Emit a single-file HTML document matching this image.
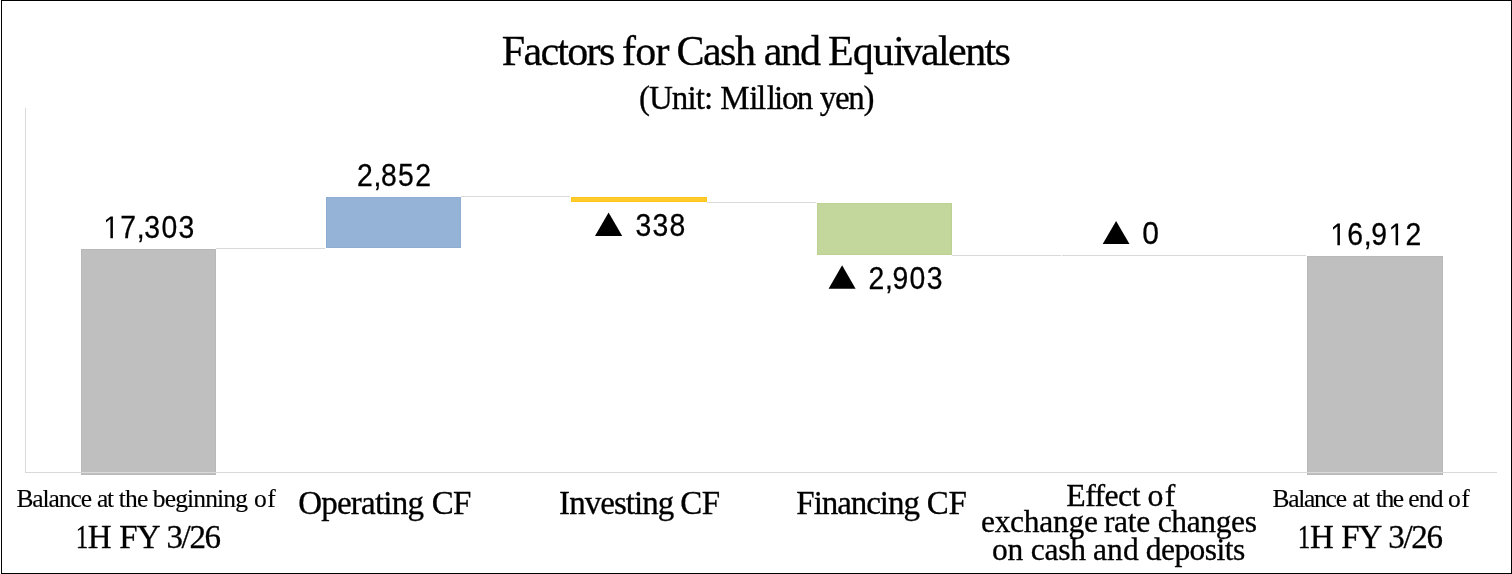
<!DOCTYPE html>
<html lang="en"><head><meta charset="utf-8"><title>Factors for Cash and Equivalents</title>
<style>html,body{margin:0;padding:0;background:#fff;}body{width:1512px;height:574px;overflow:hidden;}svg{display:block;will-change:transform;}svg{stroke-width:0.3px;}text{fill:#000;stroke:#000;}</style></head><body>
<svg width="1512" height="574" viewBox="0 0 1512 574">
<rect width="1512" height="574" fill="#fff"/>
<g shape-rendering="crispEdges">
<rect x="81" y="249" width="135" height="226" fill="#b8b8b8"/>
<rect x="82" y="250" width="133" height="224" fill="#bfbfbf"/>
<rect x="326" y="197" width="135" height="51" fill="#8eadd3"/>
<rect x="327" y="198" width="133" height="49" fill="#95b3d7"/>
<rect x="571" y="197" width="136" height="5" fill="#ffc41c"/>
<rect x="572" y="198" width="134" height="3" fill="#ffcb2d"/>
<rect x="817" y="203" width="135" height="52" fill="#bcd192"/>
<rect x="818" y="204" width="133" height="50" fill="#c3d69b"/>
<rect x="1307" y="256" width="136" height="219" fill="#b8b8b8"/>
<rect x="1308" y="257" width="134" height="217" fill="#bfbfbf"/>
<rect x="25" y="108" width="1" height="365" fill="#d9d9d9"/>
<rect x="25" y="472" width="1472" height="1" fill="#d9d9d9"/>
<rect x="216" y="248" width="109" height="1" fill="#d9d9d9"/>
<rect x="461" y="196" width="109" height="1" fill="#d9d9d9"/>
<rect x="707" y="202" width="109" height="1" fill="#d9d9d9"/>
<rect x="952" y="255" width="109" height="1" fill="#d9d9d9"/>
<rect x="1062" y="255" width="244" height="1" fill="#d9d9d9"/>
<rect x="1" y="0" width="1511" height="1" fill="#000"/>
<rect x="1" y="573" width="1511" height="1" fill="#000"/>
<rect x="1" y="0" width="1" height="574" fill="#000"/>
<rect x="1511" y="0" width="1" height="574" fill="#000"/>
</g>
<polygon points="595,235.9 622.2,235.9 608.6,212.6" fill="#000"/>
<polygon points="828.6,288.8 855.6,288.8 842.1,265.3" fill="#000"/>
<polygon points="1102.7,243.9 1129.5,243.9 1116.1,220.9" fill="#000"/>
<g font-family="Liberation Serif, serif" font-size="42">
<text x="501.79" y="65" textLength="113.45" lengthAdjust="spacing">Factors</text>
<text x="621.91" y="65" textLength="47.54" lengthAdjust="spacing">for</text>
<text x="676.45" y="65" textLength="79.44" lengthAdjust="spacing">Cash</text>
<text x="763.72" y="65" textLength="57.3" lengthAdjust="spacing">and</text>
<text x="827.93" y="65" textLength="66.04" lengthAdjust="spacing">Equ</text>
<text x="893.13" y="65">i</text>
<text x="901.69" y="65" textLength="109.22" lengthAdjust="spacing">valents</text>
</g>
<g font-family="Liberation Serif, serif" font-size="33">
<text x="638.89" y="109" textLength="74.2" lengthAdjust="spacing">(Unit:</text>
<text x="720.22" y="109">M</text>
<text x="749.18" y="109" textLength="16.95" lengthAdjust="spacing">il</text>
<text x="766.7" y="109" textLength="16.45" lengthAdjust="spacing">li</text>
<text x="782.11" y="109" textLength="31.04" lengthAdjust="spacing">on</text>
<text x="819.65" y="109" textLength="54.89" lengthAdjust="spacing">yen)</text>
</g>
<g font-family="Liberation Serif, serif" font-size="25.5" stroke-width="0.15">
<text x="16.44" y="507" textLength="75.61" lengthAdjust="spacing">Balance</text>
<text x="97.02" y="507" textLength="17.11" lengthAdjust="spacing">at</text>
<text x="118.72" y="507" textLength="29.69" lengthAdjust="spacing">the</text>
<text x="152.83" y="507" textLength="95.05" lengthAdjust="spacing">beginning</text>
<text x="254.0" y="507" textLength="21.8" lengthAdjust="spacing">of</text>
</g>
<g font-family="Liberation Serif, serif" font-size="33">
<text x="75.82" y="548" textLength="12.56" lengthAdjust="spacingAndGlyphs">1</text>
<text x="87.86" y="548">H</text>
<text x="119.31" y="548" textLength="41.38" lengthAdjust="spacing">FY</text>
<text x="166.44" y="548" textLength="54.59" lengthAdjust="spacing">3/26</text>
</g>
<g font-family="Liberation Serif, serif" font-size="33">
<text x="298.22" y="514" textLength="125.71" lengthAdjust="spacing">Operating</text>
<text x="431.7" y="514" textLength="39.62" lengthAdjust="spacing">CF</text>
</g>
<g font-family="Liberation Serif, serif" font-size="33">
<text x="559.12" y="514" textLength="115.2" lengthAdjust="spacing">Investing</text>
<text x="680.23" y="514" textLength="39.96" lengthAdjust="spacing">CF</text>
</g>
<g font-family="Liberation Serif, serif" font-size="33">
<text x="796.33" y="514" textLength="123.58" lengthAdjust="spacing">Financing</text>
<text x="926.7" y="514" textLength="40.27" lengthAdjust="spacing">CF</text>
</g>
<g font-family="Liberation Serif, serif" font-size="31.8">
<text x="1066.34" y="506" textLength="74.13" lengthAdjust="spacing">Effect</text>
<text x="1147.61" y="506" textLength="27.75" lengthAdjust="spacing">of</text>
</g>
<g font-family="Liberation Serif, serif" font-size="31.5">
<text x="980.95" y="532" textLength="116.95" lengthAdjust="spacing">exchange</text>
<text x="1103.9" y="532" textLength="46.31" lengthAdjust="spacing">rate</text>
<text x="1157.71" y="532" textLength="99.23" lengthAdjust="spacing">changes</text>
</g>
<g font-family="Liberation Serif, serif" font-size="31.5">
<text x="991.89" y="560" textLength="31.28" lengthAdjust="spacing">on</text>
<text x="1030.87" y="560" textLength="55.03" lengthAdjust="spacing">cash</text>
<text x="1092.91" y="560" textLength="45.77" lengthAdjust="spacing">and</text>
<text x="1145.68" y="560" textLength="99.69" lengthAdjust="spacing">deposits</text>
</g>
<g font-family="Liberation Serif, serif" font-size="25.5" stroke-width="0.15">
<text x="1272.44" y="507" textLength="74.55" lengthAdjust="spacing">Balance</text>
<text x="1352.47" y="507" textLength="17.54" lengthAdjust="spacing">at</text>
<text x="1375.8" y="507" textLength="28.17" lengthAdjust="spacing">the</text>
<text x="1408.21" y="507" textLength="35.24" lengthAdjust="spacing">end</text>
<text x="1448.12" y="507" textLength="21.66" lengthAdjust="spacing">of</text>
</g>
<g font-family="Liberation Serif, serif" font-size="33">
<text x="1297.64" y="548" textLength="12.6" lengthAdjust="spacingAndGlyphs">1</text>
<text x="1309.9" y="548">H</text>
<text x="1341.26" y="548" textLength="41.19" lengthAdjust="spacing">FY</text>
<text x="1388.18" y="548" textLength="54.81" lengthAdjust="spacing">3/26</text>
</g>
<g transform="translate(103.27,238.15) scale(0.897,1)" font-family="Liberation Sans, sans-serif" font-size="31.6" fill="#000" stroke="#000" stroke-width="0.3"><path transform="translate(0.0,0) scale(0.01543,-0.01543)" d="M515 0V1237L197 1010V1180L530 1409H696V0Z"/><text x="19.06" y="0">7</text><text x="37.46" y="0">,</text><text x="45.82" y="0">3</text><text x="64.88" y="0">0</text><text x="83.95" y="0">3</text></g>
<g transform="translate(356.97,186.25) scale(0.897,1)" font-family="Liberation Sans, sans-serif" font-size="31.6" fill="#000" stroke="#000" stroke-width="0.3"><text x="0.0" y="0">2</text><text x="18.39" y="0">,</text><text x="26.76" y="0">8</text><text x="45.82" y="0">5</text><text x="64.88" y="0">2</text></g>
<g transform="translate(635.42,236.25) scale(0.897,1)" font-family="Liberation Sans, sans-serif" font-size="31.6" fill="#000" stroke="#000" stroke-width="0.3"><text x="0.0" y="0">3</text><text x="19.06" y="0">3</text><text x="38.13" y="0">8</text></g>
<g transform="translate(868.47,289.1) scale(0.897,1)" font-family="Liberation Sans, sans-serif" font-size="31.6" fill="#000" stroke="#000" stroke-width="0.3"><text x="0.0" y="0">2</text><text x="18.39" y="0">,</text><text x="26.76" y="0">9</text><text x="45.82" y="0">0</text><text x="64.88" y="0">3</text></g>
<g transform="translate(1142.13,244.4) scale(0.95,1)" font-family="Liberation Sans, sans-serif" font-size="31.6" fill="#000" stroke="#000" stroke-width="0.3"><text x="0.0" y="0">0</text></g>
<g transform="translate(1330.27,245.35) scale(0.897,1)" font-family="Liberation Sans, sans-serif" font-size="31.6" fill="#000" stroke="#000" stroke-width="0.3"><path transform="translate(0.0,0) scale(0.01543,-0.01543)" d="M515 0V1237L197 1010V1180L530 1409H696V0Z"/><text x="19.06" y="0">6</text><text x="37.46" y="0">,</text><text x="45.82" y="0">9</text><path transform="translate(64.88,0) scale(0.01543,-0.01543)" d="M515 0V1237L197 1010V1180L530 1409H696V0Z"/><text x="83.95" y="0">2</text></g>
</svg></body></html>
